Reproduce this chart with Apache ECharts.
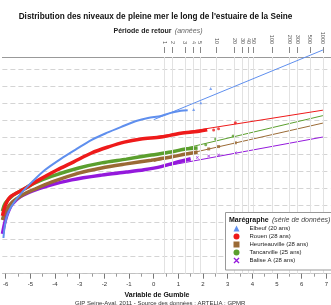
<!DOCTYPE html>
<html>
<head>
<meta charset="utf-8">
<script src="https://cdn.jsdelivr.net/npm/echarts@6/dist/echarts.min.js"></script>
<style>
html, body { margin: 0; padding: 0; background: #fff; }
#chart { width: 331px; height: 305px; }
</style>
</head>
<body>
<div id="chart"></div>
<script>
// return periods (top axis), placed on the Gumbel variable scale
const periodLabels = ['1', '2', '3', '4', '5', '10', '20', '30', '40', '50', '100', '200', '300', '500', '1000']
const periodPos = [0.43, 0.77, 1.27, 1.60, 1.87, 2.55, 3.26, 3.60, 3.85, 4.05, 4.79, 5.50, 5.82, 6.33, 6.86]
const gumbelTicks = [-6, -5, -4, -3, -2, -1, 0, 1, 2, 3, 4, 5, 6, 7]
const gumbelMinor = [-5.5, -4.5, -3.5, -2.5, -1.5, -0.5, 0.5, 1.5, 2.5, 3.5, 4.5, 5.5, 6.5]

const stations = ['Elbeuf (20 ans)', 'Rouen (28 ans)', 'Heurteauville (28 ans)', 'Tancarville (25 ans)', 'Balise A (28 ans)']

// [variable de Gumbel, niveau]
const elbeufCurve = [[-6.09, 4.55], [-6.05, 4.84], [-5.97, 5.14], [-5.85, 5.37], [-5.65, 5.61], [-5.33, 5.90], [-4.93, 6.20], [-4.41, 6.55], [-3.72, 6.90], [-3.12, 7.17], [-2.53, 7.43], [-1.91, 7.64], [-1.31, 7.82], [-0.71, 7.99], [-0.23, 8.08], [0.30, 8.14], [0.70, 8.23], [1.10, 8.29], [1.38, 8.31]]
const elbeufTail = [[1.62, 8.33], [1.91, 8.53], [2.31, 8.95]]
const elbeufFit = [[0, 8.03], [6.86, 10.08]]

const rouenCurve = [[-6.13, 5.20], [-6.01, 5.52], [-5.81, 5.76], [-5.33, 5.96], [-4.65, 6.26], [-3.92, 6.55], [-3.24, 6.79], [-2.52, 7.05], [-1.83, 7.23], [-1.19, 7.37], [-0.51, 7.46], [0.30, 7.52], [1.10, 7.63], [1.77, 7.68], [2.17, 7.73]]
const rouenTail = [[2.43, 7.73], [2.63, 7.76], [3.31, 7.94]]
const rouenFit = [[0, 7.52], [6.86, 8.31]]

const heurteauvilleCurve = [[-6.13, 5.08], [-6.01, 5.34], [-5.73, 5.61], [-5.33, 5.81], [-4.81, 5.99], [-4.12, 6.20], [-3.04, 6.46], [-2.11, 6.61], [-1.11, 6.73], [-0.10, 6.84], [0.70, 6.93], [1.30, 7.02], [1.78, 7.08]]
const heurteauvilleTail = [[2.23, 7.17], [2.63, 7.24], [3.31, 7.35]]
const heurteauvilleFit = [[0, 6.80], [6.86, 7.93]]

const tancarvilleCurve = [[-6.13, 5.34], [-6.01, 5.58], [-5.73, 5.79], [-5.33, 5.96], [-4.81, 6.17], [-4.12, 6.37], [-3.04, 6.61], [-2.11, 6.76], [-1.11, 6.87], [-0.10, 6.99], [0.70, 7.08], [1.30, 7.17], [1.78, 7.20]]
const tancarvilleTail = [[2.11, 7.29], [2.51, 7.46], [3.22, 7.55]]
const tancarvilleFit = [[0, 6.97], [6.86, 8.15]]

const baliseCurve = [[-6.13, 4.67], [-6.05, 4.96], [-5.93, 5.26], [-5.73, 5.55], [-5.41, 5.76], [-4.93, 5.93], [-4.32, 6.08], [-3.32, 6.26], [-2.11, 6.40], [-1.11, 6.49], [-0.39, 6.56], [0.30, 6.65], [0.90, 6.77], [1.50, 6.88]]
const baliseTail = [[1.77, 6.92], [2.23, 6.96], [2.63, 6.99], [3.31, 7.06]]
const baliseFit = [[0, 6.60], [6.86, 7.52]]

const font = 'Liberation Sans, Arial, sans-serif'
const colors = ['#5f8fee', '#ee1a1a', '#9a6a35', '#5b9f2e', '#9419dc']
const crossIcon = 'path://M0,1.5L1.5,0L5,3.5L8.5,0L10,1.5L6.5,5L10,8.5L8.5,10L5,6.5L1.5,10L0,8.5L3.5,5Z'
const icons = ['triangle', 'circle', 'rect', 'circle', crossIcon]
const xMin = -6.133, xMax = 7.17

const chart = echarts.init(document.getElementById('chart'), null, { renderer: 'canvas' })

function station(i, curve, tail, fit, width, z) {
    const name = stations[i]
    const color = colors[i]
    return [
        { name, type: 'line', data: curve, smooth: 0.3, showSymbol: false, z,
          itemStyle: { color }, lineStyle: { color, width } },
        { name, type: 'scatter', data: tail, symbol: icons[i], symbolSize: 3, z,
          itemStyle: { color } },
        { name, type: 'line', data: fit, showSymbol: false, clip: false, z,
          itemStyle: { color }, lineStyle: { color, width: 1 } }
    ]
}

const option = {
    animation: false,
    textStyle: { fontFamily: font },
    grid: { left: 0, right: 0, top: 57, bottom: 31.3 },
    xAxis: [
        { type: 'value', position: 'bottom', min: xMin, max: xMax,
          axisLine: { show: true, lineStyle: { color: '#bbb', width: 0.8 } },
          axisTick: { show: true, length: 5, customValues: gumbelTicks, lineStyle: { color: '#777' } },
          axisLabel: { customValues: gumbelTicks, fontSize: 6, color: '#333', margin: 8 },
          splitLine: { show: false } },
        { type: 'value', position: 'bottom', min: xMin, max: xMax,
          axisLine: { show: false },
          axisTick: { show: true, length: 3, customValues: gumbelMinor, lineStyle: { color: '#999' } },
          axisLabel: { show: false }, splitLine: { show: false } },
        { type: 'value', position: 'top', offset: 4, min: xMin, max: xMax,
          axisLine: { show: false },
          axisTick: { show: true, length: 6, customValues: periodPos, lineStyle: { color: '#888' } },
          axisLabel: { customValues: periodPos, rotate: 90, fontSize: 5.5, color: '#555', margin: 9,
                       formatter: v => periodLabels[periodPos.indexOf(v)] },
          splitLine: { show: false } },
        { type: 'value', position: 'top', min: xMin, max: xMax,
          axisLine: { show: true, lineStyle: { color: '#999', width: 1 } },
          axisTick: { show: false }, axisLabel: { show: false }, splitLine: { show: false } }
    ],
    yAxis: {
        type: 'value', min: 3.5, max: 9.874, interval: 0.5,
        axisLine: { show: false }, axisTick: { show: false }, axisLabel: { show: false },
        splitLine: { show: true, lineStyle: { color: '#d4d4d4', type: [5, 3], width: 1 } }
    },
    legend: {
        orient: 'vertical', left: 225, top: 212.7, padding: [12.3, 20, 6, 8.5],
        itemGap: 1, itemWidth: 6, itemHeight: 6, z: 20,
        textStyle: { fontSize: 6, color: '#222', lineHeight: 7, padding: [0, 0, 0, 5] },
        data: stations.map((s, i) => ({ name: s, icon: icons[i], itemStyle: { color: colors[i] } }))
    },
    graphic: [
        { type: 'rect', z: 15, shape: { x: 225.5, y: 212.5, width: 120, height: 57.5 },
          style: { fill: '#fff', stroke: '#999', lineWidth: 1 } },
        { type: 'text', x: 155.5, y: 17, z: 100,
          style: { text: "Distribution des niveaux de pleine mer le long de l'estuaire de la Seine",
                   font: 'bold 8.2px ' + font, fill: '#111', align: 'center', verticalAlign: 'middle' } },
        { type: 'text', x: 158, y: 31, z: 100,
          style: { text: '{b|Période de retour} {i|(années)}', align: 'center', verticalAlign: 'middle',
                   rich: { b: { fontWeight: 'bold', fontSize: 7, fill: '#222', fontFamily: font },
                           i: { fontStyle: 'italic', fontSize: 7, fill: '#666', fontFamily: font } } } },
        { type: 'text', x: 229, y: 220, z: 100,
          style: { text: '{b|Marégraphe} {i|(série de données)}', align: 'left', verticalAlign: 'middle',
                   rich: { b: { fontWeight: 'bold', fontSize: 7, fill: '#111', fontFamily: font },
                           i: { fontStyle: 'italic', fontSize: 7, fill: '#444', fontFamily: font } } } },
        { type: 'text', x: 157, y: 295, z: 100,
          style: { text: 'Variable de Gumble', font: 'bold 7px ' + font, fill: '#111',
                   align: 'center', verticalAlign: 'middle' } },
        { type: 'text', x: 75, y: 303, z: 100,
          style: { text: 'GIP Seine-Aval, 2011 - Source des données : ARTELIA ; GPMR', font: '6px ' + font,
                   fill: '#333', align: 'left', verticalAlign: 'middle' } }
    ],
    series: [
        { type: 'line', data: [], z: 1, silent: true,
          markLine: { silent: true, symbol: ['none', 'none'], label: { show: false },
                      lineStyle: { color: '#e2e2e2', type: 'solid', width: 1 },
                      data: periodPos.map(p => ({ xAxis: p })) } },
        ...station(4, baliseCurve, baliseTail, baliseFit, 3.5, 2),
        ...station(2, heurteauvilleCurve, heurteauvilleTail, heurteauvilleFit, 3.5, 3),
        ...station(3, tancarvilleCurve, tancarvilleTail, tancarvilleFit, 3.5, 4),
        ...station(1, rouenCurve, rouenTail, rouenFit, 3.5, 5),
        ...station(0, elbeufCurve, elbeufTail, elbeufFit, 2, 6)
    ]
}
chart.setOption(option)
</script>
</body>
</html>
